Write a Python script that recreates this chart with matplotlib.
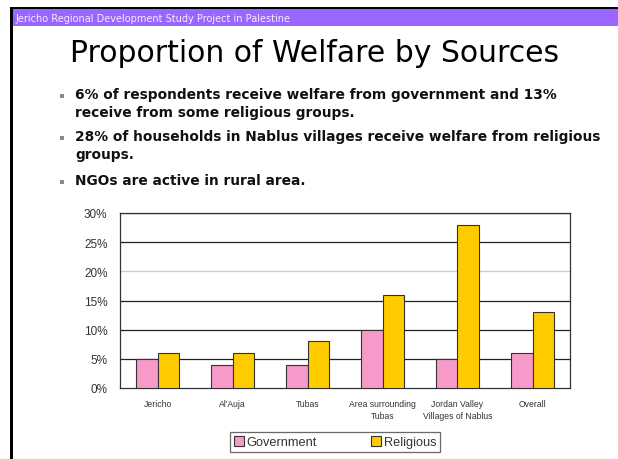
import matplotlib
matplotlib.use("Agg")
import matplotlib.pyplot as plt
from matplotlib.patches import Rectangle
import numpy as np

W, H = 618, 460

categories = ["Jericho", "Al'Auja", "Tubas", "Area surrounding\nTubas",
              "Jordan Valley\nVillages of Nablus", "Overall"]
government = [5, 4, 4, 10, 5, 6]
religious = [6, 6, 8, 16, 28, 13]
yticks = [0, 5, 10, 15, 20, 25, 30]
ytick_labels = ["0%", "5%", "10%", "15%", "20%", "25%", "30%"]
series_names = ["Government", "Religious"]
colors = ["#F79AC9", "#FFCC00"]

title = "Proportion of Welfare by Sources"
header = "Jericho Regional Development Study Project in Palestine"
bullets = [
    "6% of respondents receive welfare from government and 13%\nreceive from some religious groups.",
    "28% of households in Nablus villages receive welfare from religious\ngroups.",
    "NGOs are active in rural area.",
]

fig = plt.figure(figsize=(W / 100, H / 100), dpi=100)
fig.patch.set_facecolor("white")


def fx(x):
    return x / W


def fy(y):
    return 1 - y / H


# frame / header
fig.add_artist(Rectangle((fx(13), fy(27)), fx(618 - 13), (27 - 10) / H,
                         transform=fig.transFigure, facecolor="#9966FF", edgecolor="none"))
fig.add_artist(Rectangle((fx(10), fy(10)), fx(608), 2.5 / H,
                         transform=fig.transFigure, facecolor="black", edgecolor="none"))
fig.add_artist(Rectangle((fx(10), 0), 3 / W, fy(8),
                         transform=fig.transFigure, facecolor="black", edgecolor="none"))
fig.text(fx(15), fy(18.5), header, fontsize=7, color="#F4EEFF", va="center", ha="left",
         family="DejaVu Sans")

fig.text(fx(315), fy(53), title, fontsize=21.5, color="black", ha="center", va="center",
         family="DejaVu Sans")

line_y = [97, 139, 183]
for yv, b in zip(line_y, bullets):
    fig.add_artist(Rectangle((fx(60), fy(yv + 2)), 4 / W, 4 / H, transform=fig.transFigure,
                             facecolor="#8A8A8A", edgecolor="none"))
    fig.text(fx(75), fy(yv - 9), b, fontsize=9.9, fontweight="bold", color="#111111",
             ha="left", va="top", linespacing=1.35, family="DejaVu Sans")

# chart
ax = fig.add_axes([fx(120), fy(389), 450 / W, 175 / H])
x = np.arange(len(categories))
bw = 0.29
ax.bar(x - bw / 2, government, bw, color=colors[0], edgecolor="#333333", linewidth=0.8,
       label=series_names[0], zorder=3)
ax.bar(x + bw / 2, religious, bw, color=colors[1], edgecolor="#333333", linewidth=0.8,
       label=series_names[1], zorder=3)
ax.set_xlim(-0.5, len(categories) - 0.5)
ax.set_ylim(0, 30)
ax.set_yticks(yticks)
ax.set_yticklabels(ytick_labels, fontsize=8.5, color="#333333", family="Liberation Sans")
for t in yticks[1:]:
    c = "#CCCCCC" if t == 20 else "#222222"
    ax.axhline(t, color=c, linewidth=0.9, zorder=1)
ax.set_xticks(x)
ax.set_xticklabels(categories, fontsize=6.2, color="#333333", family="Liberation Sans",
                   linespacing=1.4)
ax.tick_params(axis="y", length=0, pad=9)
ax.tick_params(axis="x", length=0, pad=8)
for s in ax.spines.values():
    s.set_color("#333333")
    s.set_linewidth(0.9)

leg = fig.legend(loc="center", bbox_to_anchor=(fx(335), fy(443)), ncol=2, frameon=True,
                 fancybox=False, edgecolor="#444444", handlelength=0.8,
                 handleheight=0.8, handletextpad=0.2, columnspacing=4.2, borderpad=0.3,
                 prop={"family": "Liberation Sans", "size": 9.2})
leg.get_frame().set_linewidth(0.9)
for t in leg.get_texts():
    t.set_color("#333333")
for hnd in leg.legend_handles:
    hnd.set_edgecolor("#333333")

fig.savefig("out.png", dpi=100, facecolor="white")
